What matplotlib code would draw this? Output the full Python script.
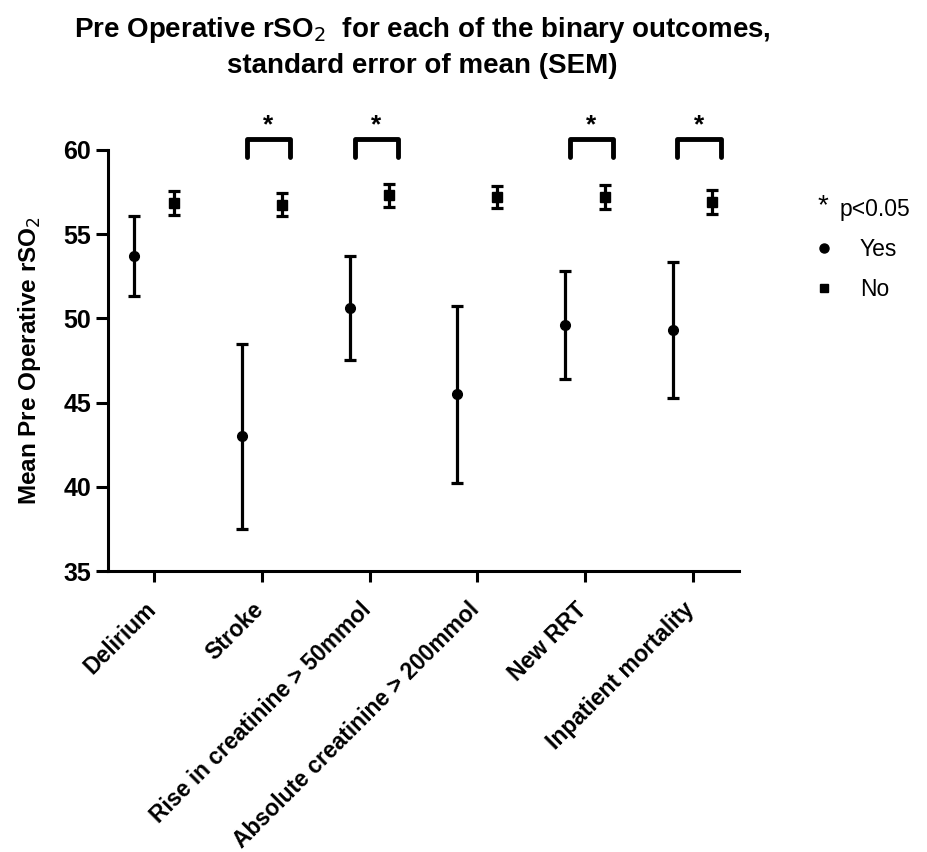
import matplotlib
matplotlib.use("Agg")
import matplotlib.pyplot as plt
import matplotlib.transforms as mtransforms
from matplotlib.lines import Line2D

plt.rcParams['font.family'] = ['Liberation Sans', 'DejaVu Sans']

# Datos
outcomes = ["Delirium", "Stroke", "Rise in creatinine > 50mmol",
            "Absolute creatinine > 200mmol", "New RRT", "Inpatient mortality"]
yes_mean = [53.7, 43.0, 50.6, 45.5, 49.6, 49.3]
yes_sem = [2.4, 5.5, 3.1, 5.25, 3.2, 4.05]
no_mean = [56.85, 56.75, 57.3, 57.2, 57.2, 56.9]
no_sem = [0.72, 0.68, 0.67, 0.65, 0.7, 0.72]
significant = [False, True, True, False, True, True]

x = list(range(len(outcomes)))
off = 0.185

fig = plt.figure(figsize=(9.27, 8.52), dpi=100)
ax = fig.add_axes([0.1165, 0.3298, 0.797 - 0.1165, 0.824 - 0.3298])

ax.errorbar([i - off for i in x], yes_mean, yerr=yes_sem, fmt='o', color='black',
            ms=7, elinewidth=2.3, capsize=4, capthick=2.3, label="Yes")
ax.errorbar([i + off for i in x], no_mean, yerr=no_sem, fmt='s', color='black',
            ms=6.5, elinewidth=2.3, capsize=4, capthick=2.3, label="No")

# Corchetes de significancia
for i, sig in enumerate(significant):
    if not sig:
        continue
    xl, xr = i - 0.14, i + 0.26
    ax.plot([xl, xl, xr, xr], [59.6, 60.65, 60.65, 59.6], color='black', lw=3.5,
            solid_capstyle='round', solid_joinstyle='round', clip_on=False)
    ax.text((xl + xr) / 2, 61.45, "*", ha='center', va='center', fontsize=19,
            fontweight='bold', clip_on=False)

ax.set_xlim(-0.43, 5.43)
ax.set_ylim(35, 60)
ax.set_yticks([35, 40, 45, 50, 55, 60])
ax.set_xticks(x)
ax.set_xticklabels([])
# Etiquetas del eje x desplazadas a mano
shift = mtransforms.ScaledTranslation(-0.10, -0.27, fig.dpi_scale_trans)
for i, name in zip(x, outcomes):
    ax.text(i, 0, name, transform=ax.get_xaxis_transform() + shift, rotation=45,
            ha='right', va='top', rotation_mode='anchor', fontsize=16.5,
            fontweight='bold')
for lab in ax.get_yticklabels():
    lab.set_fontsize(18)
    lab.set_fontweight('bold')
ax.tick_params(axis='y', length=9, width=2.2, pad=3)
ax.tick_params(axis='x', length=8, width=2.2)
for s in ['top', 'right']:
    ax.spines[s].set_visible(False)
for s in ['left', 'bottom']:
    ax.spines[s].set_linewidth(2.2)
ax.set_ylabel("Mean Pre Operative rSO$_2$", fontsize=17.5, fontweight='bold', labelpad=15)

fig.text(0.456, 0.965, "Pre Operative rSO$_2$  for each of the binary outcomes,",
         ha='center', va='center', fontsize=20, fontweight='bold')
fig.text(0.456, 0.922, "standard error of mean (SEM)", ha='center', va='center',
         fontsize=20, fontweight='bold')

# Leyenda
fig.text(0.888, 0.758, "*", ha='center', va='center', fontsize=20)
fig.text(0.906, 0.754, "p<0.05", ha='left', va='center', fontsize=16.5)
handles = [Line2D([], [], ls='none', marker='o', color='black', ms=6.5),
           Line2D([], [], ls='none', marker='s', color='black', ms=6)]
fig.legend(handles, ["Yes", "No"], loc='upper left', bbox_to_anchor=(0.877, 0.721),
           frameon=False, fontsize=16.5, handlelength=1, handletextpad=1.05,
           labelspacing=0.75, borderpad=0, borderaxespad=0)

plt.savefig("out.png", dpi=100)
